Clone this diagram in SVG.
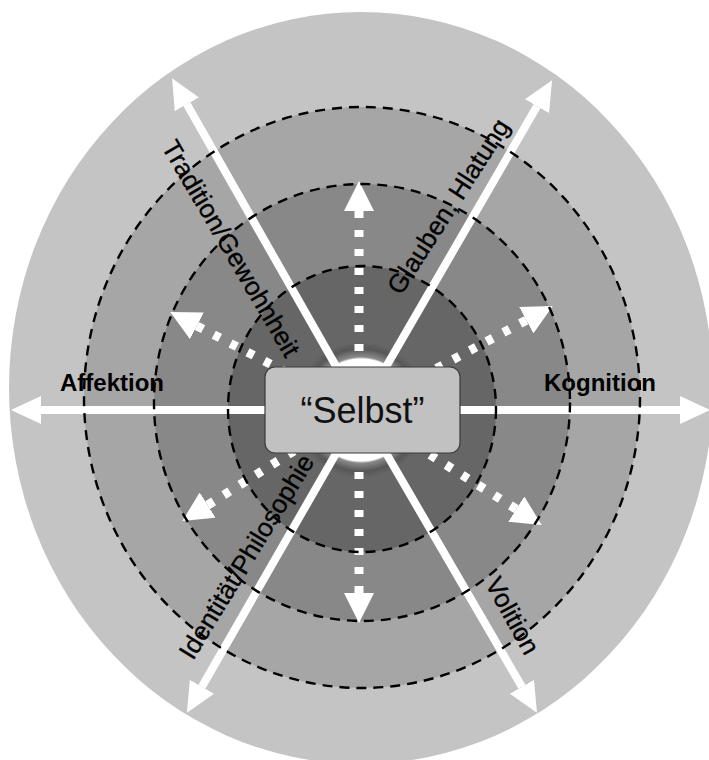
<svg xmlns="http://www.w3.org/2000/svg" width="709" height="760" viewBox="0 0 709 760">
<style>
.ring{stroke:#000;stroke-width:2.4;stroke-dasharray:10 7;fill:none}
.solid{stroke:#fff;stroke-width:8;fill:none}
.dot{stroke:#fff;stroke-width:9;stroke-dasharray:7 12;fill:none}
.lbl{font-family:"Liberation Sans",Arial,sans-serif;font-size:26px;fill:#000;stroke:#000;stroke-width:0.3}
.blbl{font-family:"Liberation Sans",Arial,sans-serif;font-size:24px;font-weight:bold;fill:#000}
</style>
<defs>
<marker id="ah" markerUnits="userSpaceOnUse" markerWidth="30" markerHeight="30" refX="0" refY="13" orient="auto" viewBox="0 0 28 26"><path d="M0,0 L28,13 L0,26 z" fill="#fff"/></marker>
<marker id="dh" markerUnits="userSpaceOnUse" markerWidth="30" markerHeight="30" refX="0" refY="14" orient="auto-start-reverse" viewBox="0 0 28 28"><path d="M0,0 L28,14 L0,28 z" fill="#fff"/></marker>
<radialGradient id="core" cx="0.5" cy="0.5" r="0.5">
<stop offset="0" stop-color="#fff"/>
<stop offset="0.75" stop-color="#fff"/>
<stop offset="0.78" stop-color="#8a8a8a"/>
<stop offset="0.9" stop-color="#575757"/>
<stop offset="1" stop-color="#666"/>
</radialGradient>
</defs>
<rect width="709" height="760" fill="#fff"/>
<g id="background">
<ellipse cx="361" cy="388" rx="352" ry="376" fill="#c4c4c4"/>
<ellipse cx="362" cy="397.5" rx="278" ry="290.5" fill="#a6a6a6"/>
<ellipse cx="362" cy="402.5" rx="208" ry="218.5" fill="#888"/>
<ellipse cx="362" cy="409" rx="134" ry="143" fill="#666"/>
<circle cx="361" cy="410" r="68" fill="url(#core)"/>
</g>
<g id="connectors">
<line class="solid" x1="361" y1="410" x2="41" y2="410" marker-end="url(#ah)"/>
<line class="solid" x1="361" y1="410" x2="680" y2="410" marker-end="url(#ah)"/>
<line class="solid" x1="361" y1="410" x2="186.9" y2="104.3" marker-end="url(#ah)"/>
<line class="solid" x1="361" y1="410" x2="537" y2="106.2" marker-end="url(#ah)"/>
<line class="solid" x1="361" y1="410" x2="201.9" y2="686.7" marker-end="url(#ah)"/>
<line class="solid" x1="361" y1="410" x2="521.9" y2="686.8" marker-end="url(#ah)"/>
<path class="dot" d="M359,211 L359,410" marker-start="url(#dh)"/>
<path class="dot" d="M359,593 L359,410" marker-start="url(#dh)"/>
<path class="dot" d="M196.9,325.9 L359,410" marker-start="url(#dh)"/>
<path class="dot" d="M526.3,320.2 L359,410" marker-start="url(#dh)"/>
<path class="dot" d="M207.7,505.1 L359,410" marker-start="url(#dh)"/>
<path class="dot" d="M516.3,509.1 L359,410" marker-start="url(#dh)"/>
</g>
<g id="rings">
<ellipse class="ring" cx="362" cy="397.5" rx="278" ry="290.5"/>
<ellipse class="ring" cx="362" cy="402.5" rx="208" ry="218.5"/>
<ellipse class="ring" cx="362" cy="409" rx="134" ry="143"/>
</g>
<g id="label-affektion"><text class="blbl" x="60" y="391">Affektion</text></g>
<g id="label-kognition"><text class="blbl" x="544" y="391">Kognition</text></g>
<g id="label-tradition"><text class="lbl" text-anchor="middle" transform="translate(223.4,252.8) rotate(59.6)">Tradition/Gewohnheit</text></g>
<g id="label-glauben"><text class="lbl" text-anchor="middle" transform="translate(455.9,211.1) rotate(-57.2)">Glauben, Hlatung</text></g>
<g id="label-identitaet"><text class="lbl" text-anchor="middle" transform="translate(254,561.4) rotate(-58.6)">Identität/Philosophie</text></g>
<g id="label-volition"><text class="lbl" text-anchor="middle" transform="translate(504.8,620) rotate(61)">Volition</text></g>
<g id="selbst">
<rect x="265" y="367" width="195" height="86" rx="10" fill="#c1c1c1" stroke="#3a3a3a" stroke-width="1.2"/>
<text x="362.5" y="423" text-anchor="middle" font-family="'Liberation Sans',Arial,sans-serif" font-size="36" fill="#111">“Selbst”</text>
</g>
</svg>
